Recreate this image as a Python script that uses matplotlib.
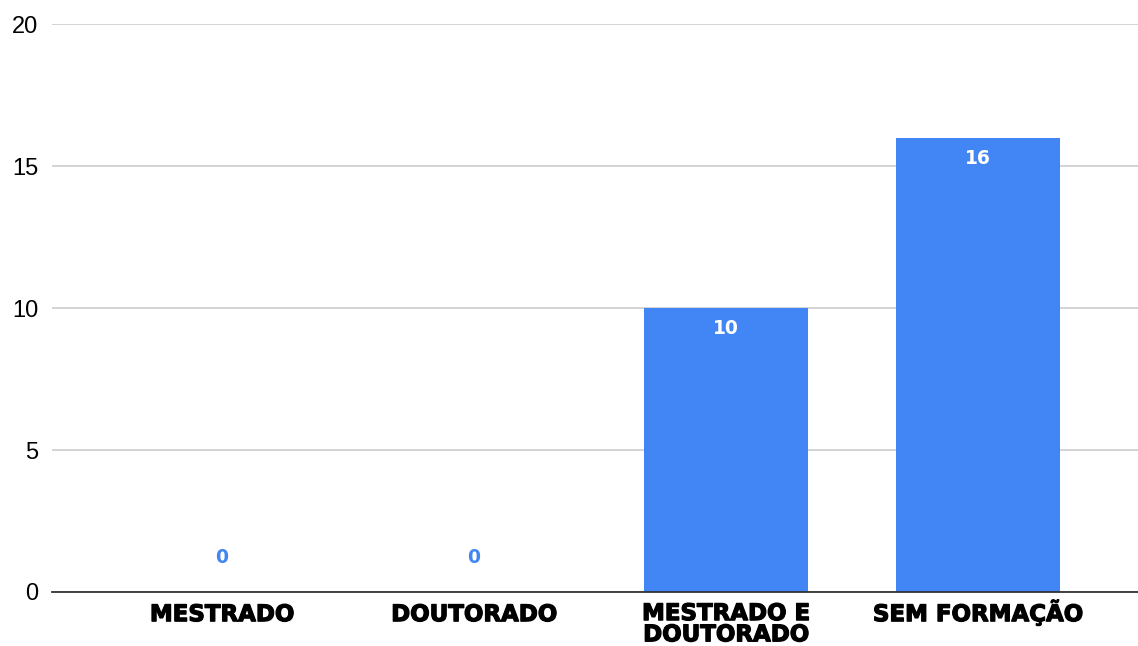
import numpy as np
import matplotlib.pyplot as plt
import matplotlib.patheffects as pe

categorias = ["MESTRADO", "DOUTORADO", "MESTRADO E\nDOUTORADO", "SEM FORMAÇÃO"]
valores = [0, 0, 10, 16]
yticks = [0, 5, 10, 15, 20]

azul = "#4285F4"

fig = plt.figure(figsize=(11.38, 6.46), dpi=100)
ax = fig.add_axes([0.0457, 0.0836, 0.9543, 0.8792])

x = np.arange(len(categorias))
barras = ax.bar(x, valores, width=0.65, color=azul, zorder=3)

for b, v in zip(barras, valores):
    cx = b.get_x() + b.get_width() / 2
    if v > 0:
        ax.text(cx, v - 0.4, str(v), ha="center", va="top", color="white",
                fontsize=13.5, fontweight="bold", family="DejaVu Sans", zorder=4)
    else:
        ax.text(cx, 1.22, str(v), ha="center", va="center", color=azul,
                fontsize=13.5, fontweight="bold", family="DejaVu Sans", zorder=4)

ax.set_xlim(-0.675, 3.635)
ax.set_ylim(0, 20)
ax.set_yticks(yticks)
ax.set_yticklabels([str(t) for t in yticks], family="Liberation Sans", fontsize=17)
ax.set_xticks(x, labels=[""] * len(x))

# rótulos das categorias alinhados pela linha de base da primeira linha
# (o baseline de texto multilinha usa a última linha, daí o deslocamento extra)
for xi, cat in zip(x, categorias):
    n = cat.count("\n")
    ax.annotate(cat, xy=(xi, 0), xycoords=("data", "axes fraction"),
                xytext=(0, -21 - 14.5 * n), textcoords="offset points",
                ha="center", va="baseline", ma="center", linespacing=0.9,
                fontsize=16.5, fontweight="heavy", family="DejaVu Sans",
                path_effects=[pe.Stroke(linewidth=0.9, foreground="black"), pe.Normal()],
                annotation_clip=False)

ax.tick_params(axis="both", length=0)
ax.tick_params(axis="y", pad=10)

ax.grid(axis="y", color="#cccccc", linewidth=1.2, zorder=0)
for s in ["top", "right", "left"]:
    ax.spines[s].set_visible(False)
ax.spines["bottom"].set_color("#333333")
ax.spines["bottom"].set_linewidth(1.3)
ax.spines["bottom"].set_zorder(5)

fig.savefig("out.png", dpi=100)
